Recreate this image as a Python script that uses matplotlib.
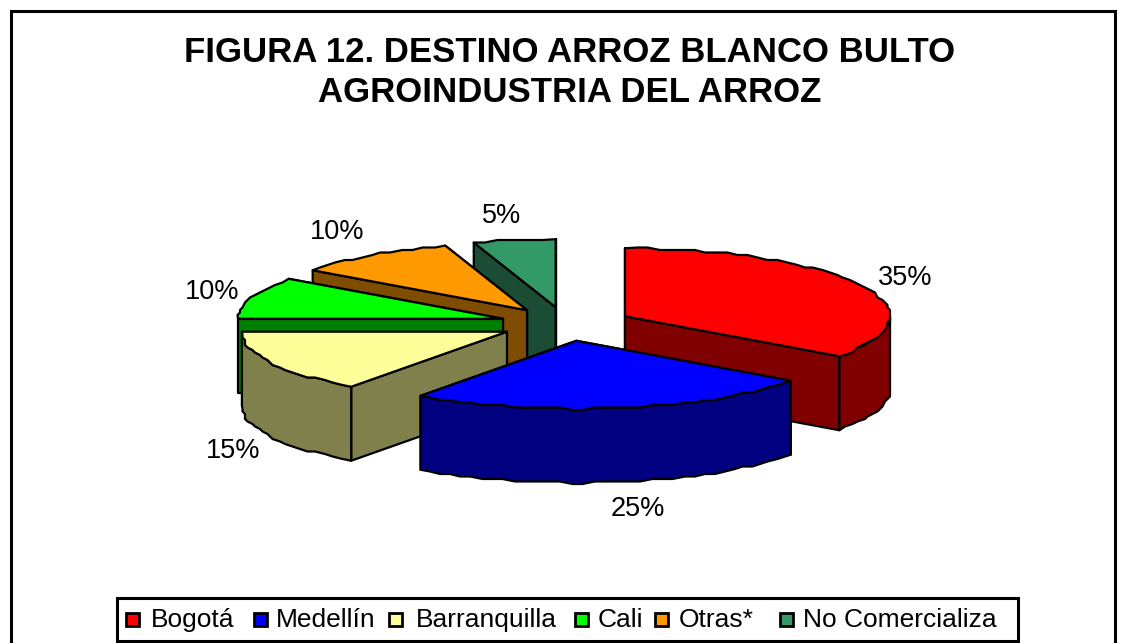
import numpy as np
import matplotlib
matplotlib.use("Agg")
import matplotlib.pyplot as plt
from matplotlib.patches import Polygon, Rectangle

categories = ["Bogotá", "Medellín", "Barranquilla", "Cali", "Otras*", "No Comercializa"]
values = [35, 25, 15, 10, 10, 5]
top_colors = ["#FF0000", "#0000FF", "#FFFF99", "#00FF00", "#FF9900", "#339966"]
side_colors = ["#800000", "#000080", "#80804D", "#008000", "#804C00", "#1A4D33"]
title_lines = ["FIGURA 12. DESTINO ARROZ BLANCO BULTO", "AGROINDUSTRIA DEL ARROZ"]

# layout (pixels)
CX, CY, A, B, DEPTH, EXPLODE = 566, 324, 265, 68, 74, 0.25
GRID = 2.5
LABEL_POS = [(905, 278), (638, 509), (233, 451), (212, 292), (337, 232), (502, 216)]
SWATCH_X = [126, 254, 389, 575, 655, 780]
TEXT_X = [151, 276, 416, 598, 679, 803]
FONT = "Liberation Sans"
EDGE = 2.2 / 100 * 72

fig = plt.figure(figsize=(11.26, 6.43), dpi=100, facecolor="white")
ax = fig.add_axes([0, 0, 1, 1])
ax.set_xlim(0, 1126)
ax.set_ylim(643, 0)
ax.axis("off")

ax.add_patch(Rectangle((11, 11), 1104, 640, fc="white", ec="black", lw=2.2))


def pt(cx, cy, deg):
    r = np.radians(deg)
    return cx + A * np.sin(r), cy - B * np.cos(r)


def rough_arc(cx, cy, a0, a1):
    """Arc sampled coarsely and snapped to a grid, giving the low-resolution stepped outline."""
    n = max(int((a1 - a0) / 2.5), 2)
    arc = np.linspace(a0, a1, n + 1)
    xs, ys = pt(cx, cy, arc)
    xs[1:-1] = np.round(xs[1:-1] / GRID) * GRID
    ys[1:-1] = np.round(ys[1:-1] / GRID) * GRID
    return xs, ys


def poly(points, color, z):
    ax.add_patch(Polygon(points, closed=True, fc=color, ec="black", lw=EDGE,
                         joinstyle="round", zorder=z))


total = sum(values)
edges = np.concatenate([[0], np.cumsum(values)]) / total * 360
paint_order = [5, 4, 3, 2, 0, 1]
for rank, i in enumerate(paint_order):
    a0, a1 = edges[i], edges[i + 1]
    mid = np.radians((a0 + a1) / 2)
    cx = CX + EXPLODE * A * np.sin(mid)
    cy = CY - EXPLODE * B * np.cos(mid)
    z = 2 + rank
    # radial walls, rear one first
    for ang in sorted([a0, a1], key=lambda d: pt(cx, cy, d)[1]):
        x, y = pt(cx, cy, ang)
        poly([(cx, cy), (x, y), (x, y + DEPTH), (cx, cy + DEPTH)], side_colors[i], z)
    # outer wall, front half only
    lo, hi = max(a0, 90), min(a1, 270)
    if hi > lo:
        xs, ys = rough_arc(cx, cy, lo, hi)
        poly(list(zip(xs, ys)) + list(zip(xs[::-1], ys[::-1] + DEPTH)), side_colors[i], z)
    # top face
    xs, ys = rough_arc(cx, cy, a0, a1)
    poly([(cx, cy)] + list(zip(xs, ys)), top_colors[i], z)

for v, (x, y) in zip(values, LABEL_POS):
    ax.text(x, y, f"{v}%", ha="center", va="center", fontsize=19.5, family=FONT,
            color="black", zorder=20)

ax.text(570, 53, title_lines[0], ha="center", va="center", fontsize=25, family=FONT,
        fontweight="bold", zorder=20)
ax.text(570, 92, title_lines[1], ha="center", va="center", fontsize=25, family=FONT,
        fontweight="bold", zorder=20)

ax.add_patch(Rectangle((117, 598), 901, 43, fc="white", ec="black", lw=2.2, zorder=21))
for name, col, sx, tx in zip(categories, top_colors, SWATCH_X, TEXT_X):
    ax.add_patch(Rectangle((sx, 613), 13, 13, fc=col, ec="black", lw=2.0, zorder=22))
    ax.text(tx, 620, name, ha="left", va="center", fontsize=19, family=FONT, zorder=22)

fig.savefig("out.png", dpi=100, facecolor="white")
